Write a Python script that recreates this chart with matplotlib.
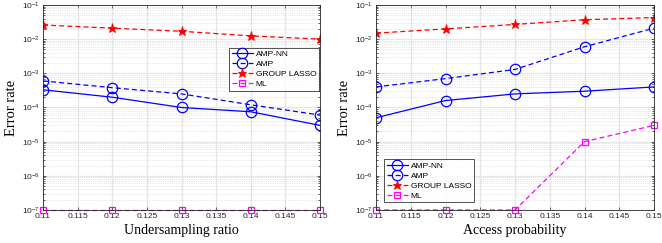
import matplotlib.pyplot as plt
import matplotlib.ticker as mticker
import numpy as np

# x values shared by both panels
x_vals = [0.11, 0.12, 0.13, 0.14, 0.15]
x_ticks = [0.11, 0.115, 0.12, 0.125, 0.13, 0.135, 0.14, 0.145, 0.15]
x_tick_labels = ['0.11', '0.115', '0.12', '0.125', '0.13', '0.135', '0.14', '0.145', '0.15']

# left panel: undersampling ratio
left_ampnn = [3.3e-4, 2.0e-4, 1.0e-4, 7.5e-5, 3.0e-5]
left_amp = [6.0e-4, 3.8e-4, 2.5e-4, 1.2e-4, 6.0e-5]
left_lasso = [2.6e-2, 2.1e-2, 1.7e-2, 1.25e-2, 1.0e-2]
left_ml = [1e-7, 1e-7, 1e-7, 1e-7, 1e-7]

# right panel: access probability
right_ampnn = [5.0e-5, 1.6e-4, 2.5e-4, 3.0e-4, 4.0e-4]
right_amp = [4.0e-4, 7.0e-4, 1.3e-3, 6.0e-3, 2.1e-2]
right_lasso = [1.5e-2, 2.0e-2, 2.7e-2, 3.7e-2, 4.3e-2]
right_ml = [1e-7, 1e-7, 1e-7, 1e-5, 3e-5]

plt.rcParams.update({
    'font.family': 'Liberation Sans',
    'font.size': 6,
    'mathtext.fontset': 'custom',
    'mathtext.rm': 'Liberation Sans',
})

fig = plt.figure(figsize=(6.62, 2.43), dpi=100)
W, H = 662, 243
ax1 = fig.add_axes([43 / W, 1 - 210 / H, (320 - 43) / W, (210 - 5) / H])
ax2 = fig.add_axes([376 / W, 1 - 210 / H, (654 - 376) / W, (210 - 5) / H])


def draw_panel(ax, ampnn, amp, lasso, ml, xlabel, legend_loc):
    ax.plot(x_vals, ampnn, '-', color='#0000ff', marker='o', ms=7.5,
            mfc='none', mew=0.9, lw=0.9, label='AMP-NN')
    ax.plot(x_vals, amp, '--', color='#0000ff', marker='o', ms=7.5,
            mfc='none', mew=0.9, lw=0.9, label='AMP', dashes=(4, 2.5))
    ax.plot(x_vals, lasso, '--', color='#ff0000', marker='*', ms=6.5,
            mfc='#ff0000', mew=0.6, lw=0.9, label='GROUP LASSO', dashes=(4, 2.5))
    ax.plot(x_vals, ml, '--', color='#ff00ff', marker='s', ms=5,
            mfc='none', mew=0.9, lw=0.9, label='ML', dashes=(4, 2.5), clip_on=False)
    ax.set_yscale('log')
    ax.set_ylim(1e-7, 1e-1)
    ax.set_xlim(0.11, 0.15)
    ax.set_xticks(x_ticks)
    ax.set_xticklabels(x_tick_labels)
    ax.yaxis.set_major_locator(mticker.LogLocator(base=10, numticks=10))
    ax.yaxis.set_minor_locator(mticker.LogLocator(base=10, subs=np.arange(2, 10), numticks=20))
    ax.yaxis.set_minor_formatter(mticker.NullFormatter())
    ax.grid(True, which='major', color='#e6e6e6', lw=0.9)
    ax.grid(True, which='minor', axis='y', color='#cfcfcf', lw=0.5, ls=':')
    ax.set_axisbelow(True)
    ax.tick_params(which='both', direction='in', top=True, right=True,
                   labelsize=6, pad=2, width=0.5, colors='#262626')
    ax.tick_params(which='major', length=2.5)
    ax.tick_params(which='minor', length=1.2)
    for s in ax.spines.values():
        s.set_linewidth(0.6)
        s.set_color('#262626')
    ax.set_xlabel(xlabel, family='Liberation Serif', fontsize=10, labelpad=3)
    ax.set_ylabel('Error rate', family='Liberation Serif', fontsize=10.5, labelpad=3)
    leg = ax.legend(loc=legend_loc, fontsize=6, frameon=True, fancybox=False,
                    edgecolor='#262626', handlelength=2.6, borderpad=0.3,
                    labelspacing=0.25, handletextpad=0.3, borderaxespad=0.0)
    leg.get_frame().set_linewidth(0.7)
    return leg


leg1 = draw_panel(ax1, left_ampnn, left_amp, left_lasso, left_ml,
                  'Undersampling ratio', 'upper left')
leg1.set_bbox_to_anchor((229 / W, 1 - 48 / H), transform=fig.transFigure)
leg2 = draw_panel(ax2, right_ampnn, right_amp, right_lasso, right_ml,
                  'Access probability', 'lower left')
leg2.set_bbox_to_anchor((384 / W, 1 - 202 / H), transform=fig.transFigure)

fig.savefig('out.png', dpi=100, facecolor='white')
